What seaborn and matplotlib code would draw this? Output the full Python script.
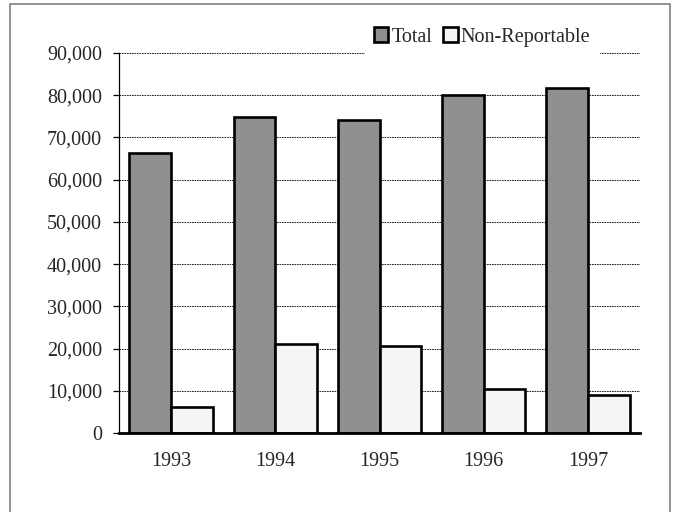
import pandas as pd
import matplotlib.pyplot as plt
import seaborn as sns
from matplotlib.patches import Rectangle, Patch
from matplotlib.ticker import FuncFormatter

# values
anos = ['1993', '1994', '1995', '1996', '1997']
total = [66400, 74800, 74200, 80000, 81700]
non_reportable = [6050, 21000, 20700, 10400, 9100]

df = pd.DataFrame({
    'ano': anos * 2,
    'valor': total + non_reportable,
    'serie': ['Total'] * 5 + ['Non-Reportable'] * 5,
})

sns.set_style('white')
plt.rcParams['font.family'] = ['Liberation Serif', 'DejaVu Serif']
plt.rcParams['font.size'] = 14.5

cores = {'Total': '#8f8f8f', 'Non-Reportable': '#f5f5f5'}

fig = plt.figure(figsize=(6.73, 5.12), dpi=100)
ax = fig.add_axes([119 / 673, 1 - 433 / 512, (640 - 119) / 673, (433 - 53) / 512])

sns.barplot(data=df, x='ano', y='valor', hue='serie', palette=cores,
            width=0.8, edgecolor='black', linewidth=1.9, ax=ax, legend=False)

ax.set_ylim(0, 90000)
ax.set_xlim(-0.5, 4.5)
ax.set_yticks(range(0, 90001, 10000))
ax.yaxis.set_major_formatter(FuncFormatter(lambda v, p: f'{int(v):,}'))
ax.set_xlabel('')
ax.set_ylabel('')

ax.yaxis.grid(True, linestyle=(0, (2, 1)), color='black', linewidth=0.6)
ax.set_axisbelow(True)

for lado in ['top', 'right']:
    ax.spines[lado].set_visible(False)
ax.spines['left'].set_linewidth(0.9)
ax.spines['left'].set_color('black')
ax.spines['bottom'].set_linewidth(2)
ax.spines['bottom'].set_color('black')

ax.tick_params(axis='y', left=True, length=4.3, width=0.9, color='black', pad=8, labelsize=14.5)
ax.tick_params(axis='x', bottom=False, length=0, pad=14, labelsize=14.5)

# legenda com fundo branco cobrindo a grade
handles = [Patch(facecolor=cores[s], edgecolor='black', linewidth=1.9, label=s)
           for s in ['Total', 'Non-Reportable']]
leg = fig.legend(handles=handles, loc='center', bbox_to_anchor=(482 / 673, 1 - 37 / 512),
                 ncol=2, frameon=True, fancybox=False, edgecolor='white', facecolor='white',
                 framealpha=1, handlelength=0.72, handleheight=0.72, handletextpad=0.15,
                 columnspacing=0.55, borderpad=0.45, borderaxespad=0, fontsize=14.5)

# moldura da figura
fig.patches.append(Rectangle((9.5 / 673, -0.02), 660.5 / 673, 1.02 - 3.5 / 512, transform=fig.transFigure,
                             fill=False, edgecolor='#808080', linewidth=1.2))

plt.savefig('out.png', dpi=100)
